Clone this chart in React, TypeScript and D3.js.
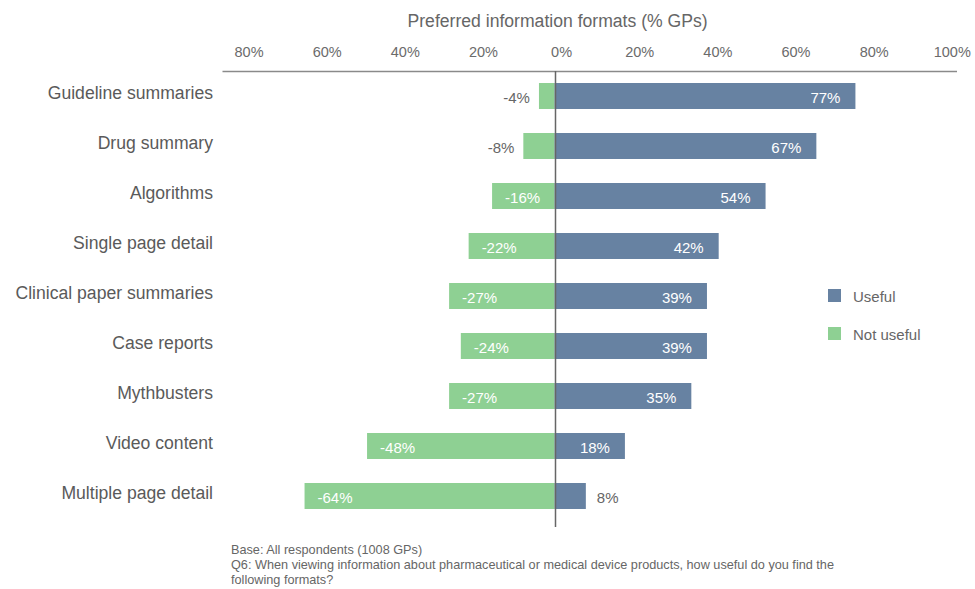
import React from "react";
import * as d3 from "d3";

const categories = [
  "Guideline summaries",
  "Drug summary",
  "Algorithms",
  "Single page detail",
  "Clinical paper summaries",
  "Case reports",
  "Mythbusters",
  "Video content",
  "Multiple page detail",
];
const useful = [77, 67, 54, 42, 39, 39, 35, 18, 8];
const notUseful = [-4, -8, -16, -22, -27, -24, -27, -48, -64];
const tickValues = [-80, -60, -40, -20, 0, 20, 40, 60, 80, 100];
const seriesNames = ["Useful", "Not useful"];
const title = "Preferred information formats (% GPs)";
const footnotes = [
  "Base: All respondents (1008 GPs)",
  "Q6: When viewing information about pharmaceutical or medical device products, how useful do you find the",
  "following formats?",
];

const W = 975;
const H = 589;
const BLUE = "#6782A2";
const GREEN = "#8ED093";
const FONT = "'Liberation Sans', Arial, Helvetica, sans-serif";

export default function App() {
  const x = d3.scaleLinear().domain([-85, 103]).range([222.5, 957]);
  const y = d3.scalePoint<string>().domain(categories).range([71, 521]).padding(0.5);
  const barH = 26;
  const x0 = Math.round(x(0)) + 0.5;
  const rows = categories.map((c, i) => ({ c, u: useful[i], n: notUseful[i] }));
  const fmt = (v: number) => `${v}%`;
  const inside = (v: number) => Math.abs(v) >= 12;

  return (
    <svg
      width={W}
      height={H}
      style={{ position: "absolute", left: 0, top: 0, fontFamily: FONT }}
    >
      <rect width={W} height={H} fill="#fff" />
      <text x={x(0) + 3} y={27} textAnchor="middle" fontSize={17.6} fill="#666">
        {title}
      </text>
      {tickValues.map((t) => (
        <text
          key={t}
          x={x(t) + 7}
          y={57}
          textAnchor="middle"
          fontSize={14.5}
          fill="#6b6b6b"
        >
          {`${Math.abs(t)}%`}
        </text>
      ))}
      <line x1={x(-85)} x2={x(103)} y1={71.5} y2={71.5} stroke="#8a8a8a" strokeWidth={1.5} />

      {rows.map((r) => {
        const cy = y(r.c)!;
        const top = cy - barH / 2;
        const ux = x(r.u);
        const nx = x(r.n);
        return (
          <g key={r.c}>
            <text
              x={213}
              y={cy - 3}
              textAnchor="end"
              dominantBaseline="central"
              fontSize={17.6}
              fill="#5a5a5a"
            >
              {r.c}
            </text>
            <rect x={nx} y={top} width={x(0) - nx} height={barH} fill={GREEN} />
            <rect x={x(0)} y={top} width={ux - x(0)} height={barH} fill={BLUE} />
            {inside(r.u) ? (
              <text
                x={ux - 15}
                y={cy + 1}
                textAnchor="end"
                dominantBaseline="central"
                fontSize={15}
                fill="#fff"
              >
                {fmt(r.u)}
              </text>
            ) : (
              <text
                x={ux + 11}
                y={cy + 1}
                textAnchor="start"
                dominantBaseline="central"
                fontSize={15}
                fill="#666"
              >
                {fmt(r.u)}
              </text>
            )}
            {inside(r.n) ? (
              <text
                x={nx + 13}
                y={cy + 1}
                textAnchor="start"
                dominantBaseline="central"
                fontSize={15}
                fill="#fff"
              >
                {fmt(r.n)}
              </text>
            ) : (
              <text
                x={nx - 9}
                y={cy + 1}
                textAnchor="end"
                dominantBaseline="central"
                fontSize={15}
                fill="#666"
              >
                {fmt(r.n)}
              </text>
            )}
          </g>
        );
      })}

      <line x1={x0} x2={x0} y1={71} y2={527} stroke="#666" strokeWidth={1.5} />

      {seriesNames.map((s, i) => (
        <g key={s} transform={`translate(828, ${289 + i * 38})`}>
          <rect width={13} height={13} fill={i === 0 ? BLUE : GREEN} />
          <text x={25} y={7} dominantBaseline="central" fontSize={15} fill="#666">
            {s}
          </text>
        </g>
      ))}

      {footnotes.map((f, i) => (
        <text key={i} x={231} y={554 + i * 15} fontSize={12.7} fill="#666">
          {f}
        </text>
      ))}
    </svg>
  );
}
